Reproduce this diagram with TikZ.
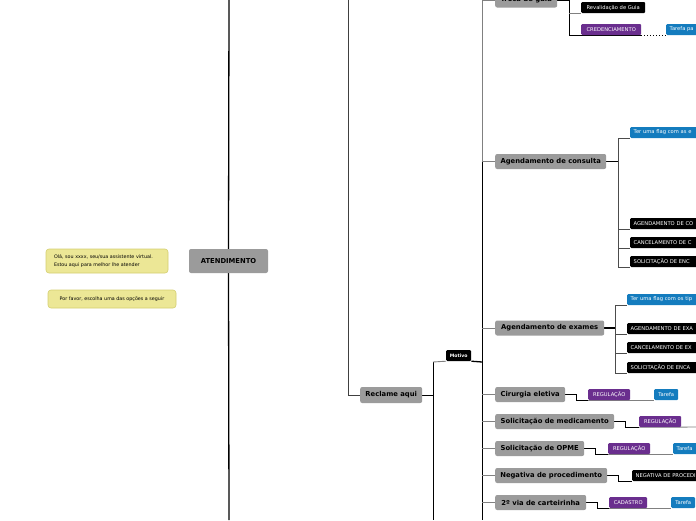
\documentclass[tikz,border=0pt]{standalone}
\usepackage{fontspec}
\setmainfont{DejaVu Sans}
\usepackage{tikz}
\usetikzlibrary{positioning,backgrounds}
\usepackage{xcolor}

\definecolor{topicgray}{RGB}{155,155,155}
\definecolor{tagpurple}{RGB}{106,46,142}
\definecolor{tagblue}{RGB}{20,124,190}
\definecolor{notefill}{RGB}{236,231,150}
\definecolor{noteline}{RGB}{212,206,112}
\definecolor{linkgray}{RGB}{128,128,128}

\newcommand{\mmfont}[2][0]{\fontsize{#2}{\ifdim#1pt=0pt #2\else #1\fi}\selectfont}

\begin{document}
\begin{tikzpicture}[x=1pt,y=-1pt,
  topic/.style={fill=topicgray, rounded corners=2pt, inner sep=0pt,
    minimum height=15pt, anchor=west, font=\bfseries\mmfont{6.8}},
  tag/.style={fill=black, text=white, rounded corners=1.2pt, inner xsep=3.5pt,
    inner ysep=0pt, minimum height=11pt, anchor=west, font=\mmfont{5.2}},
  whole/.style={},
  cut/.style={text width=90pt, align=left},
  note/.style={fill=notefill, draw=noteline, line width=0.6pt, rounded corners=3pt,
    inner sep=0pt, font=\mmfont[8]{4.8}},
  link/.style={linkgray, line width=0.9pt},
  bold link/.style={black, line width=1.3pt}]

  % Constants
  \def\childX{495}

  \useasboundingbox (0,0) rectangle (696,520);
  \clip (0,0) rectangle (696,520);

  % Root and the two notes
  \node[topic, anchor=center, minimum width=79pt, minimum height=24pt] (atend) at (228.5,261) {ATENDIMENTO};
  \node[note, minimum width=122pt, minimum height=24pt, text width=106pt, align=left] (ola) at (107,261)
    {Olá, sou xxxx, seu/sua assistente virtual.\\Estou aqui para melhor lhe atender};
  \node[note, minimum width=128pt, minimum height=18pt] (opcoes) at (112,299) {Por favor, escolha uma das opções a seguir};

  % Reclame aqui and Motivo
  \node[topic, minimum width=62pt, minimum height=16pt] (reclame) at (360,395) {Reclame aqui};
  \node[tag, font=\bfseries\mmfont{4.6}, minimum width=25pt, inner xsep=0pt] (motivo) at (446,355.5) {Motivo};

  % Motivo children: (name/y/width/text)
  \foreach \nm/\y/\w/\txt in {%
    troca/0/62/Troca de guia,
    consulta/161.5/111/Agendamento de consulta,
    exames/328/109/Agendamento de exames,
    cirurgia/394.5/70/Cirurgia eletiva,
    medicamento/421.5/119/Solicitação de medicamento,
    opme/448.5/89/Solicitação de OPME,
    negativa/475.5/112/Negativa de procedimento,
    carteirinha/502.5/91/2º via de carteirinha%
  } {%
    \node[topic, minimum width=\w pt] (\nm) at (\childX,\y) {\txt};
  }

  % Tags: (name/x/y/width/colour/style/text)
  \foreach \nm/\x/\y/\w/\col/\st/\txt in {%
    reval/581/7.5/64/black/whole/Revalidação de Guia,
    cred/581/29.5/60/tagpurple/whole/CREDENCIAMENTO,
    tarT/666/29.5/0/tagblue/cut/Tarefa pa,
    flagC/630/132.5/0/tagblue/cut/Ter uma flag com as e,
    agC/630/223.5/0/black/cut/AGENDAMENTO DE CO,
    canC/630/242.5/0/black/cut/CANCELAMENTO DE C,
    solC/630/261.5/0/black/cut/SOLICITAÇÃO DE ENC,
    flagE/627/299.5/0/tagblue/cut/Ter uma flag com os tip,
    agE/627/328.5/0/black/cut/AGENDAMENTO DE EXA,
    canE/627/347.5/0/black/cut/CANCELAMENTO DE EX,
    solE/627/367.5/0/black/cut/SOLICITAÇÃO DE ENCA,
    regCir/588/394.5/42/tagpurple/whole/REGULAÇÃO,
    tarCir/654/394.5/24/tagblue/whole/Tarefa,
    regMed/639/421.5/42/tagpurple/whole/REGULAÇÃO,
    regOpme/608/448.5/42/tagpurple/whole/REGULAÇÃO,
    tarOpme/673/448.5/0/tagblue/cut/Tarefa,
    negP/632/475.5/0/black/cut/NEGATIVA DE PROCEDI,
    cad/609/502.5/38/tagpurple/whole/CADASTRO,
    tarCart/671/502.5/24/tagblue/whole/Tarefa%
  } {%
    \node[tag, \st, fill=\col, minimum width=\w pt] (\nm) at (\x,\y) {\txt};
  }

  % Junction points
  \coordinate (rootTop) at (229,0);
  \coordinate (rootBot) at (229,520);
  \coordinate (recTop) at (348,0);
  \coordinate (motJ) at (433,362);
  \coordinate (motBot) at (433,520);
  \coordinate (brJ) at (482,362);
  \coordinate (brTop) at (482,0);
  \coordinate (brBot) at (482,520);
  \coordinate (trJ) at ([xshift=12pt]troca.east);
  \coordinate (csJ) at ([xshift=12pt]consulta.east);
  \coordinate (exJ) at ([xshift=11pt]exames.east);
  \coordinate (medEnd) at (700,427);

  \begin{scope}[on background layer]
    % trunks
    \draw[bold link] (rootTop) -- (atend.north);
    \draw[bold link] (atend.south) -- (rootBot);
    \draw[black!75, line width=1pt] (recTop) |- (reclame.west);
    \draw[black, line width=1pt] (reclame.east) -- (reclame.east -| motJ);
    \draw[black, line width=1pt] (motJ) -- (motBot);
    \draw[link] (motJ) -- (motivo.south west);
    \draw[bold link] (motivo.south east) -- (brJ);
    \draw[link] (brTop) -- (brTop |- consulta.west);
    \draw[black, line width=1pt] (brTop |- consulta.west) -- (brBot);
    \foreach \nm in {troca,consulta,exames,cirurgia,medicamento,opme,negativa,carteirinha}
      \draw[link] (brTop |- \nm.west) -- (\nm.west);

    % Troca de guia
    \draw[bold link, line width=1pt] (troca.east) -- (trJ) -- (trJ |- cred.south west) -- (cred.south east);
    \draw[link] (trJ |- reval.south west) -- (reval.south west);
    \draw[black, dotted, line width=1pt] (cred.south east) -- (tarT.south west);

    % Agendamento de consulta / exames
    \draw[bold link] (consulta.east) -- (csJ);
    \draw[link, black!70] (csJ |- flagC.south) -- (csJ |- solC.south);
    \foreach \t in {flagC,agC,canC,solC}
      \draw[link, black!70] (csJ |- \t.south west) -- (\t.south west);
    \draw[bold link] (exames.east) -- (exJ);
    \draw[link, black!70] (exJ |- flagE.south) -- (exJ |- solE.south);
    \foreach \t in {flagE,agE,canE,solE}
      \draw[link, black!70] (exJ |- \t.south west) -- (\t.south west);

    % lower children
    \foreach \c/\t in {cirurgia/regCir,medicamento/regMed,opme/regOpme,negativa/negP,carteirinha/cad}
      \draw[black, line width=1pt] (\c.east) -- ++(11,0) |- (\t.south west);
    \foreach \a/\b in {regCir/tarCir,regOpme/tarOpme,cad/tarCart}
      \draw[link] (\a.south west) -- (\b.south west);
    \draw[link] (regMed.south west) -- (medEnd);
  \end{scope}
\end{tikzpicture}
\end{document}
